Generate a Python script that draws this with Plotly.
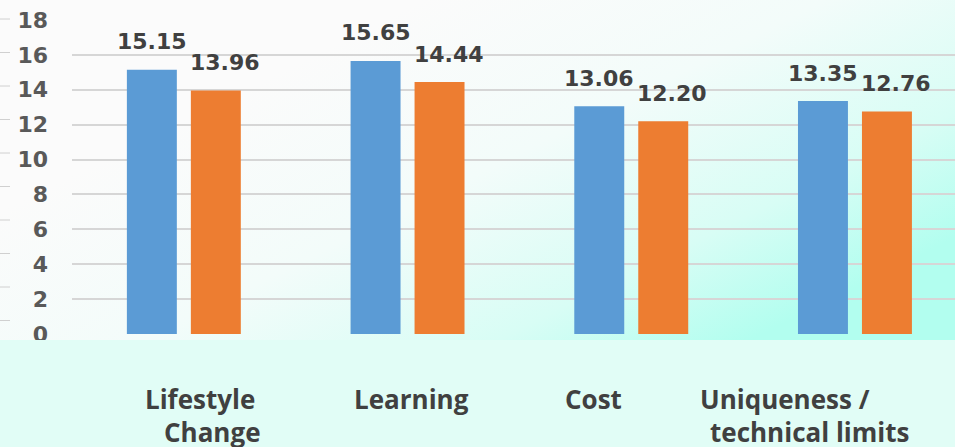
import base64
import plotly.graph_objects as go

# ---- data -------------------------------------------------------------
CATEGORIES = ["Lifestyle Change", "Learning", "Cost", "Uniqueness / technical limits"]
LABEL_LINES = [["Lifestyle", "Change"], ["Learning"], ["Cost"], ["Uniqueness /", "technical limits"]]
SERIES_1 = [15.15, 15.65, 13.06, 13.35]
SERIES_2 = [13.96, 14.44, 12.20, 12.76]
Y_TICKS = [0, 2, 4, 6, 8, 10, 12, 14, 16, 18]

# ---- styling ----------------------------------------------------------
W, H = 955, 447
M_L, M_R, M_T, M_B = 72, 0, 20, 113
PW, PH = W - M_L - M_R, H - M_T - M_B
BLUE, ORANGE = "#5B9BD5", "#ED7D31"
TEXT_DARK, TEXT_AXIS = "#404040", "#595959"
NUM_FONT = "DejaVu Sans"
CAT_FONT = "Open Sans"
LINE_SHIFTS = [[16, 29], [4], [-38], [-70, -45]]   # horizontal nudges of the category text lines
CAT_STEP = 223.7                                     # px per category slot

x_end = -0.5 + PW / CAT_STEP

fig = go.Figure()
fig.add_trace(go.Bar(x=CATEGORIES, y=SERIES_1, name="Series 1", marker_color=BLUE,
                     marker_line_width=0, showlegend=False))
fig.add_trace(go.Bar(x=CATEGORIES, y=SERIES_2, name="Series 2", marker_color=ORANGE,
                     marker_line_width=0, showlegend=False))

num_font = dict(family=NUM_FONT, size=22, color=TEXT_DARK, weight="bold")
annotations = []
# value labels above the bars
for cat, v in zip(CATEGORIES, SERIES_1):
    annotations.append(dict(x=cat, y=v, xref="x", yref="y", text=f"{v:.2f}", showarrow=False,
                            xshift=-32, yshift=28, yanchor="middle", font=num_font))
for cat, v in zip(CATEGORIES, SERIES_2):
    annotations.append(dict(x=cat, y=v, xref="x", yref="y", text=f"{v:.2f}", showarrow=False,
                            xshift=41, yshift=28, yanchor="middle", font=num_font))
# category names below the axis
for cat, lines, shifts in zip(CATEGORIES, LABEL_LINES, LINE_SHIFTS):
    for i, (line, dx) in enumerate(zip(lines, shifts)):
        annotations.append(dict(x=cat, y=0, xref="x", yref="y", text=line, showarrow=False,
                                xshift=dx, yshift=-65 - 33 * i, yanchor="middle",
                                font=dict(family=CAT_FONT, size=26, color=TEXT_DARK, weight="bold")))

# soft white-to-aqua background wash behind the plot
svg = (
    "<svg xmlns='http://www.w3.org/2000/svg' width='955' height='340' viewBox='0 0 955 340' "
    "preserveAspectRatio='none'><defs><linearGradient id='g' x1='0.3' y1='0.2' x2='1' y2='0.7'>"
    "<stop offset='0' stop-color='#FBFBFB'/><stop offset='0.4' stop-color='#F3FCFA'/>"
    "<stop offset='0.75' stop-color='#D8FDF5'/><stop offset='1' stop-color='#B2FEEF'/>"
    "</linearGradient></defs><rect width='955' height='340' fill='url(#g)'/></svg>"
)
bg_uri = "data:image/svg+xml;base64," + base64.b64encode(svg.encode()).decode()

px_x = lambda p: (p - M_L) / PW          # figure pixel -> paper x
px_y = lambda p: (H - M_B - p) / PH      # figure pixel -> paper y

shapes = []
# faint short dashes on the far left edge
for k in range(10):
    yy = px_y(19 + 33.5 * k)
    shapes.append(dict(type="line", xref="paper", yref="paper", x0=px_x(0), x1=px_x(10),
                       y0=yy, y1=yy, line=dict(color="#D0D0D0", width=1), layer="below"))
# pale aqua band under the axis
shapes.append(dict(type="rect", xref="paper", yref="paper", x0=px_x(0), x1=px_x(W),
                   y0=px_y(H), y1=px_y(340), fillcolor="#E1FDF6", line=dict(width=0), layer="above"))

fig.update_layout(
    width=W, height=H,
    margin=dict(l=M_L, r=M_R, t=M_T, b=M_B, pad=0),
    paper_bgcolor="white", plot_bgcolor="rgba(0,0,0,0)",
    barmode="group", bargap=0.428, bargroupgap=0.219,
    annotations=annotations, shapes=shapes,
    images=[dict(source=bg_uri, xref="paper", yref="paper", x=px_x(0), y=px_y(0),
                 sizex=W / PW, sizey=340 / PH, xanchor="left", yanchor="top",
                 sizing="stretch", layer="below")],
    xaxis=dict(range=[-0.5, x_end], showticklabels=False, showgrid=False, zeroline=False,
               showline=False, ticks=""),
    yaxis=dict(range=[0, 18], tickvals=Y_TICKS, showgrid=True, gridcolor="#D6D6D6", gridwidth=1.5,
               zeroline=False, showline=False, ticks="", ticklabelstandoff=23,
               tickfont=dict(family=NUM_FONT, size=22, color=TEXT_AXIS, weight="bold")),
)

fig.write_html("out.html")
